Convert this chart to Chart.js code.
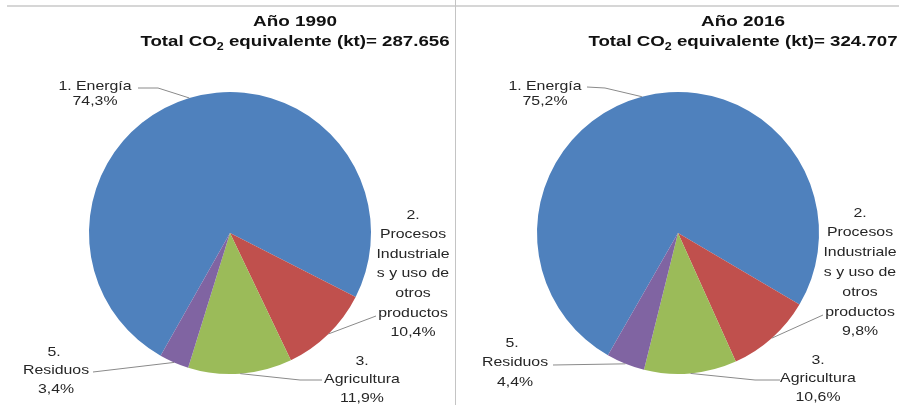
<!DOCTYPE html>
<html>
<head>
<meta charset="utf-8">
<script src="https://cdn.jsdelivr.net/npm/chart.js@4.4.1/dist/chart.umd.min.js"></script>
<style>
  html, body { margin: 0; padding: 0; background: #fff; }
  #wrap { position: relative; width: 899px; height: 405px; overflow: hidden; }
  #topRule { position: absolute; left: 7px; right: 0; top: 5px; height: 2px; background: #d6d6d6; }
  #left { position: absolute; left: 0; top: 0; }
  #right { position: absolute; left: 455px; top: 0; border-left: 1px solid #c4c4c4; }
  #right canvas { margin-left: -1px; }
</style>
</head>
<body>
<div id="wrap">
  <div id="topRule"></div>
  <div id="left"><canvas id="pie1990" width="455" height="405"></canvas></div>
  <div id="right"><canvas id="pie2016" width="444" height="405"></canvas></div>
</div>
<script>
// Emisiones GEI por sector, % del total CO2 equivalente
const categories = [
    ['1. Energía'],
    ['2.', 'Procesos', 'Industriale', 's y uso de', 'otros', 'productos'],
    ['3.', 'Agricultura'],
    ['5.', 'Residuos']
];
const years = ['1990', '2016'];
const totalsKt = [287656, 324707];
const share1990 = [74.3, 10.4, 11.9, 3.4];
const share2016 = [75.2, 9.8, 10.6, 4.4];
const sliceColors = ['#4F81BD', '#C0504D', '#9BBB59', '#8064A2'];

const FONT = "'Liberation Sans', Arial, sans-serif";

function fmtPct(v) {
    return v.toFixed(1).replace('.', ',') + '%';
}

function fmtKt(n) {
    return String(n).replace(/\B(?=(\d{3})+(?!\d))/g, '.');
}

// text is drawn a bit wider than the font's natural width
function wideText(ctx, str, x, y, sx) {
    ctx.save();
    ctx.translate(x, y);
    ctx.scale(sx, 1);
    ctx.fillText(str, 0, 0);
    ctx.restore();
}

const pieLabels = {
    id: 'pieLabels',
    afterDraw(chart, args, opts) {
        const ctx = chart.ctx;
        const ds = chart.data.datasets[0];
        const arcs = chart.getDatasetMeta(0).data;

        // title block
        ctx.save();
        ctx.fillStyle = '#111';
        ctx.textBaseline = 'alphabetic';
        ctx.font = 'bold 15px ' + FONT;
        ctx.textAlign = 'center';
        wideText(ctx, 'Año ' + opts.year, opts.titleX, 26, 1.26);

        const a = 'Total CO', b = '2', c = ' equivalente (kt)= ' + fmtKt(opts.total);
        const wa = ctx.measureText(a).width;
        const wc = ctx.measureText(c).width;
        ctx.font = 'bold 10px ' + FONT;
        const wb = ctx.measureText(b).width;
        const sx = 1.245;
        ctx.translate(opts.titleX, 46);
        ctx.scale(sx, 1);
        ctx.textAlign = 'left';
        let x0 = -(wa + wb + wc) / 2;
        ctx.font = 'bold 15px ' + FONT;
        ctx.fillText(a, x0, 0);
        ctx.font = 'bold 10px ' + FONT;
        ctx.fillText(b, x0 + wa, 4);
        ctx.font = 'bold 15px ' + FONT;
        ctx.fillText(c, x0 + wa + wb, 0);
        ctx.restore();

        // data labels with leader lines
        arcs.forEach((arc, i) => {
            const lb = opts.labels[i];
            const mid = (arc.startAngle + arc.endAngle) / 2;
            const ex = arc.x + Math.cos(mid) * arc.outerRadius;
            const ey = arc.y + Math.sin(mid) * arc.outerRadius;

            ctx.save();
            ctx.strokeStyle = '#8a8a8a';
            ctx.lineWidth = 1;
            ctx.beginPath();
            ctx.moveTo(lb.anchor[0], lb.anchor[1]);
            if (lb.bend) ctx.lineTo(lb.bend[0], lb.bend[1]);
            ctx.lineTo(ex, ey);
            ctx.stroke();

            const lines = chart.data.labels[i].concat([fmtPct(ds.data[i])]);
            ctx.fillStyle = '#262626';
            ctx.font = '13px ' + FONT;
            ctx.textAlign = 'center';
            ctx.textBaseline = 'middle';
            lines.forEach((ln, k) => {
                const cx = (lb.xs && lb.xs[k] !== undefined) ? lb.xs[k] : lb.x;
                wideText(ctx, ln, cx, lb.y + k * lb.lh, 1.22);
            });
            ctx.restore();
        });
    }
};

function makePie(id, year, total, values, rotation, padding, layoutOpts) {
    return new Chart(document.getElementById(id), {
        type: 'pie',
        data: {
            labels: categories,
            datasets: [{
                data: values,
                backgroundColor: sliceColors,
                borderWidth: 0,
                hoverOffset: 0
            }]
        },
        options: {
            responsive: false,
            animation: false,
            rotation: rotation,
            layout: { padding: padding },
            plugins: {
                legend: { display: false },
                tooltip: { enabled: false },
                pieLabels: Object.assign({ year: year, total: total }, layoutOpts)
            }
        },
        plugins: [pieLabels]
    });
}

makePie('pie1990', years[0], totalsKt[0], share1990, 209.5,
    { left: 89, right: 84, top: 92, bottom: 31 },
    {
        titleX: 295,
        labels: [
            { x: 95, y: 86, lh: 15.5, anchor: [138, 88], bend: [158, 88] },
            { x: 413, y: 215, lh: 19.6, anchor: [376, 316] },
            { x: 362, y: 361, lh: 18.5, anchor: [322, 380], bend: [300, 380] },
            { x: 56, xs: [54], y: 352, lh: 18.5, anchor: [93, 372] }
        ]
    });

makePie('pie2016', years[1], totalsKt[1], share2016, 209.8,
    { left: 82, right: 80, top: 92, bottom: 31 },
    {
        titleX: 288,
        labels: [
            { x: 90, y: 86, lh: 15.5, anchor: [132, 87], bend: [150, 88] },
            { x: 405, y: 213, lh: 19.8, anchor: [368, 315] },
            { x: 363, y: 360, lh: 18.5, anchor: [325, 380], bend: [300, 380] },
            { x: 60, xs: [57], y: 343, lh: 19.5, anchor: [98, 365] }
        ]
    });
</script>
</body>
</html>
